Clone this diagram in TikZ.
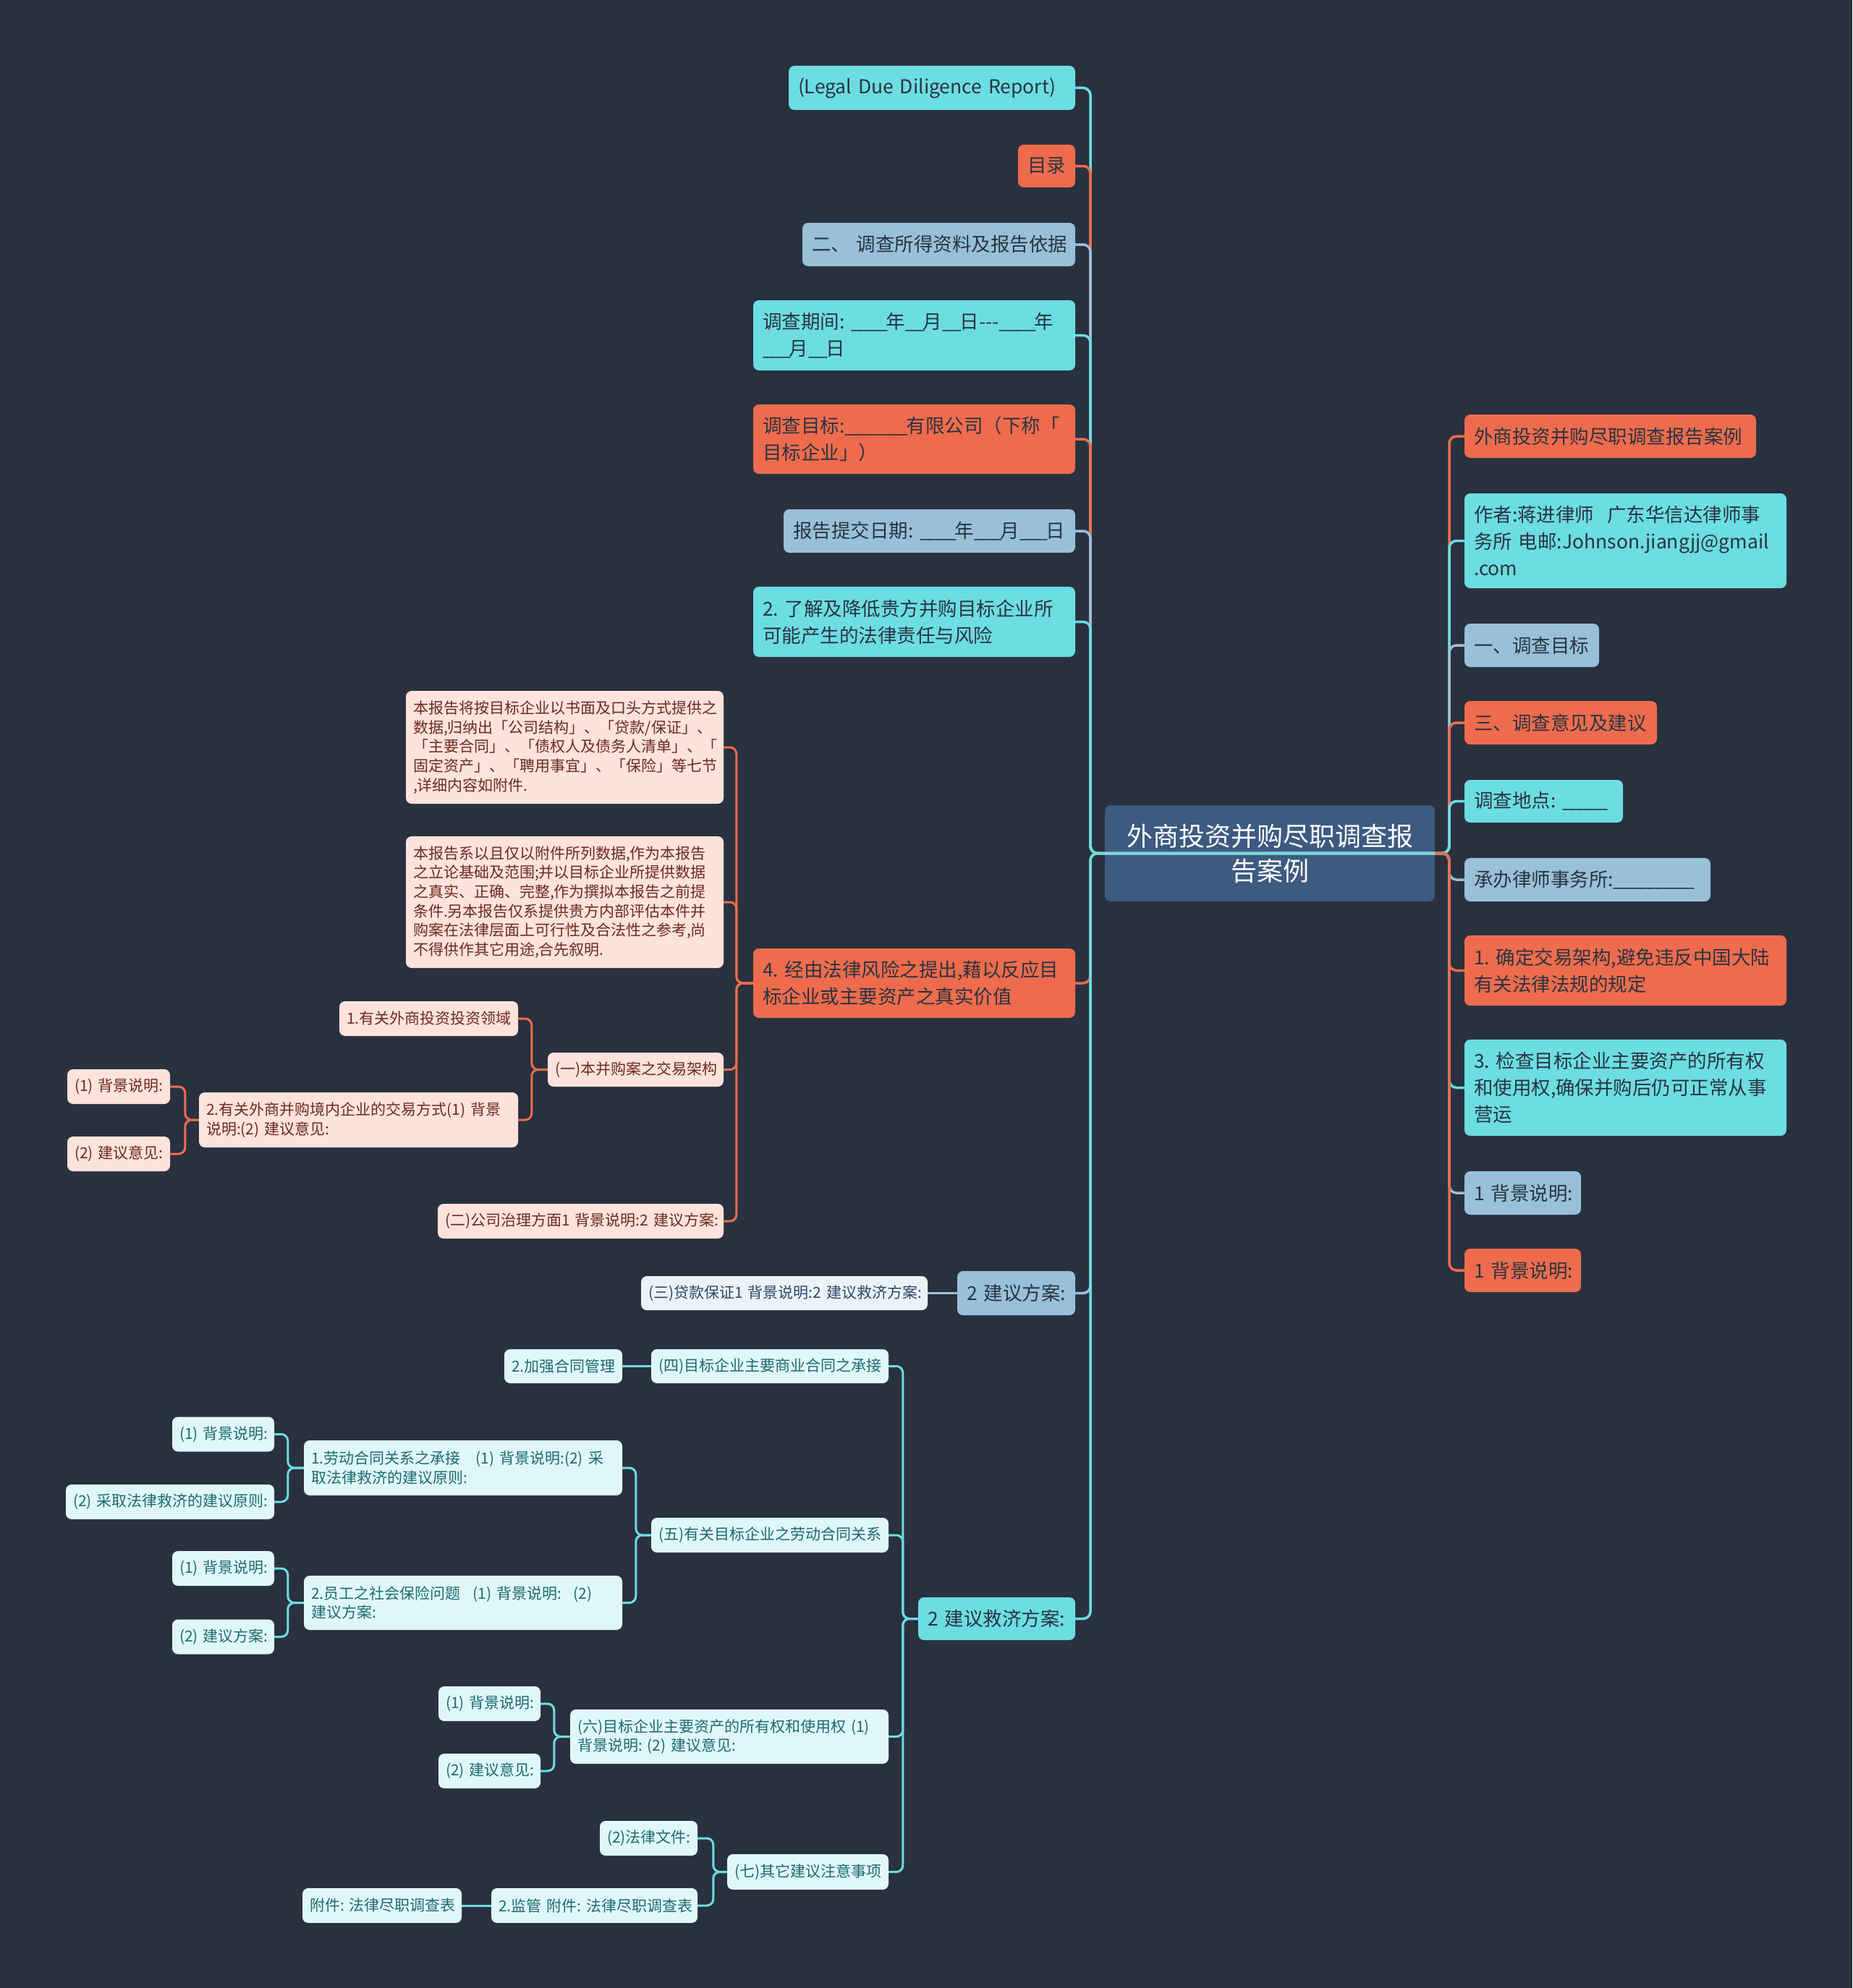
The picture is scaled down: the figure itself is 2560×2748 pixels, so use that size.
\documentclass[tikz,border=0pt]{standalone}
\usepackage{fontspec}
\setmainfont{Noto Sans CJK SC}
\definecolor{bg}{HTML}{29313F}
\definecolor{cy}{HTML}{6CDDE3}
\definecolor{org}{HTML}{EE6C4D}
\definecolor{lb}{HTML}{98C1D9}
\definecolor{rootc}{HTML}{3D5A80}
\definecolor{pk}{HTML}{FDE3DC}
\definecolor{pktext}{HTML}{6B2A1F}
\definecolor{lcy}{HTML}{E0F7F9}
\definecolor{lcytext}{HTML}{1D6A70}
\definecolor{llb}{HTML}{ECF3F8}
\definecolor{llbtext}{HTML}{2A4868}
\definecolor{dtext}{HTML}{2A3340}
\newcommand\U{\_\kern-0.1em}
\tikzset{
  box/.style={rounded corners=8pt, inner ysep=0pt, align=left},
  tw/.style={text width=#1pt},
  mh/.style={minimum height=#1pt},
  one/.style={box, inner xsep=13pt, font=\fontsize{26.5}{37}\selectfont, text=dtext},
  two/.style={box, inner xsep=10pt, font=\fontsize{21}{26.7}\selectfont},
  cyb/.style={one, fill=cy}, orb/.style={one, fill=org}, lbb/.style={one, fill=lb},
  pkb/.style={two, fill=pk, text=pktext, mh=48},
  lcb/.style={two, fill=lcy, text=lcytext, mh=48},
  llbb/.style={two, fill=llb, text=llbtext, mh=48},
  rootb/.style={box, inner xsep=0pt, fill=rootc, text=white, align=center,
    text width=456pt, minimum height=133pt, font=\fontsize{36}{48}\selectfont},
  cl/.style={line width=3.5pt, rounded corners=10pt},
  cltwo/.style={line width=3pt, rounded corners=9pt},
}
\begin{document}
\begin{tikzpicture}[x=1pt,y=-1pt]
\fill[bg] (0,0) rectangle (2560,2748);
\useasboundingbox (0,0) rectangle (2560,2748);
\coordinate (LB) at (1507,1179.5);
\coordinate (RB) at (2003,1179.5);

% root
\node[rootb] (root) at (1755,1179.5) {外商投资并购尽职调查报\\告案例};

% left level 1
\node[cyb, tw=370, mh=61] (L1) at (1288,121.5) {(Legal~Due~Diligence~Report)};
\node[orb, tw=53, mh=59] (L2) at (1446.5,229.5) {目录};
\node[lbb, tw=351, mh=60] (L3) at (1297.5,338) {二、~调查所得资料及报告依据};
\node[cyb, tw=419, mh=97] (L4) at (1263.5,463.5) {\mbox{调查期间:~\U\U\U\U 年\U\U 月\U\U 日-{}-{}-\U\U\U\U 年}\\\mbox{\U\U\U 月\U\U 日}};
\node[orb, tw=419, mh=96] (L5) at (1263.5,607) {\mbox{调查目标:\U\U\U\U\U\U\U 有限公司（下称「}\\目标企业」）};
\node[lbb, tw=377, mh=60] (L6) at (1284.5,734) {\mbox{报告提交日期:~\U\U\U\U 年\U\U\U 月\U\U\U 日}};
\node[cyb, tw=419, mh=97] (L7) at (1263.5,859.5) {2.~了解及降低贵方并购目标企业所\\可能产生的法律责任与风险};
\node[orb, tw=419, mh=96] (L8) at (1263.5,1359) {4.~经由法律风险之提出,藉以反应目\\标企业或主要资产之真实价值};
\node[lbb, tw=137, mh=61] (L9) at (1404.5,1787.5) {2~建议方案:};
\node[cyb, tw=191, mh=59] (L10) at (1377.5,2237.5) {2~建议救济方案:};

% right level 1
\node[orb, tw=377, mh=60] (R1) at (2225.5,603) {外商投资并购尽职调查报告案例};
\node[cyb, tw=419, mh=131] (R2) at (2246.5,747.5) {作者:蒋进律师~~广东华信达律师事\\务所~电邮:Johnson.jiangjj@gmail\\.com};
\node[lbb, tw=160, mh=60] (R3) at (2117,892) {一、调查目标};
\node[orb, tw=240, mh=60] (R4) at (2157,999) {三、调查意见及建议};
\node[cyb, tw=193, mh=59] (R5) at (2133.5,1107.5) {\mbox{调查地点:~\U\U\U\U\U}};
\node[lbb, tw=314, mh=60] (R6) at (2194,1216) {\mbox{承办律师事务所:\U\U\U\U\U\U\U\U\U}};
\node[orb, tw=419, mh=97] (R7) at (2246.5,1341.5) {1.~确定交易架构,避免违反中国大陆\\有关法律法规的规定};
\node[cyb, tw=419, mh=133] (R8) at (2246.5,1503.5) {3.~检查目标企业主要资产的所有权\\和使用权,确保并购后仍可正常从事\\营运};
\node[lbb, tw=135, mh=60] (R9) at (2104.5,1649) {1~背景说明:};
\node[orb, tw=135, mh=60] (R10) at (2104.5,1756) {1~背景说明:};

% L8 subtree
\node[pkb, tw=419, mh=156] (A1) at (780.5,1033) {本报告将按目标企业以书面及口头方式提供之\\数据,归纳出「公司结构」、「贷款/保证」、\\「主要合同」、「债权人及债务人清单」、「\\固定资产」、「聘用事宜」、「保险」等七节\\,详细内容如附件.};
\node[pkb, tw=419, mh=182] (A2) at (780.5,1247) {本报告系以且仅以附件所列数据,作为本报告\\之立论基础及范围;并以目标企业所提供数据\\之真实、正确、完整,作为撰拟本报告之前提\\条件.另本报告仅系提供贵方内部评估本件并\\购案在法律层面上可行性及合法性之参考,尚\\不得供作其它用途,合先叙明.};
\node[pkb, tw=223, mh=47] (A3) at (878.5,1478.5) {(一)本并购案之交易架构};
\node[pkb, tw=227] (A3a) at (592.5,1408) {1.有关外商投资投资领域};
\node[pkb, tw=421, mh=76] (A3b) at (495.5,1548) {2.有关外商并购境内企业的交易方式(1)~背景\\说明:(2)~建议意见:};
\node[pkb, tw=122] (A3b1) at (164,1502) {(1)~背景说明:};
\node[pkb, tw=122] (A3b2) at (164,1595) {(2)~建议意见:};
\node[pkb, tw=375] (A4) at (802.5,1688) {(二)公司治理方面1~背景说明:2~建议方案:};

% L9 subtree
\node[llbb, tw=376, mh=47] (B1) at (1084,1787.5) {(三)贷款保证1~背景说明:2~建议救济方案:};

% L10 subtree
\node[lcb, tw=308, mh=47] (C1) at (1064,1888.5) {(四)目标企业主要商业合同之承接};
\node[lcb, tw=143, mh=47] (C1a) at (778.5,1888.5) {2.加强合同管理};
\node[lcb, tw=308] (C2) at (1064,2122) {(五)有关目标企业之劳动合同关系};
\node[lcb, tw=420, mh=76] (C2a) at (640,2029) {1.劳动合同关系之承接\hspace{1em}(1)~背景说明:(2)~采\\取法律救济的建议原则:};
\node[lcb, tw=121] (C2a1) at (308.5,1982.5) {(1)~背景说明:};
\node[lcb, tw=268] (C2a2) at (235,2076) {(2)~采取法律救济的建议原则:};
\node[lcb, tw=420, mh=75] (C2b) at (640,2215.5) {2.员工之社会保险问题\hspace{0.8em}(1)~背景说明:\hspace{0.8em}(2)\\建议方案:};
\node[lcb, tw=121] (C2b1) at (308.5,2168) {(1)~背景说明:};
\node[lcb, tw=121] (C2b2) at (308.5,2262.5) {(2)~建议方案:};
\node[lcb, tw=420, mh=75] (C3) at (1008,2400.5) {(六)目标企业主要资产的所有权和使用权~(1)\\背景说明:~(2)~建议意见:};
\node[lcb, tw=121] (C3a) at (676.5,2355) {(1)~背景说明:};
\node[lcb, tw=121] (C3b) at (676.5,2448) {(2)~建议意见:};
\node[lcb, tw=203, mh=49] (C4) at (1116.5,2587.5) {(七)其它建议注意事项};
\node[lcb, tw=115] (C4a) at (896.5,2541) {(2)法律文件:};
\node[lcb, tw=265] (C4b) at (821.5,2634) {2.监管~附件:~法律尽职调查表};
\node[lcb, tw=200] (C4b1) at (528,2634) {附件:~法律尽职调查表};

% root connectors, right side
\draw[cl, org] (root.center) -- (RB) |- (R1.west);
\draw[cl, cy]  (root.center) -- (RB) |- (R2.west);
\draw[cl, lb]  (root.center) -- (RB) |- (R3.west);
\draw[cl, org] (root.center) -- (RB) |- (R4.west);
\draw[cl, cy]  (root.center) -- (RB) |- (R5.west);
\draw[cl, lb]  (root.center) -- (RB) |- (R6.west);
\draw[cl, org] (root.center) -- (RB) |- (R7.west);
\draw[cl, cy]  (root.center) -- (RB) |- (R8.west);
\draw[cl, lb]  (root.center) -- (RB) |- (R9.west);
\draw[cl, org] (root.center) -- (RB) |- (R10.west);
% root connectors, left side
\draw[cl, cy]  (root.east) -- (LB) |- (L1.east);
\draw[cl, org] (root.east) -- (LB) |- (L2.east);
\draw[cl, lb]  (root.east) -- (LB) |- (L3.east);
\draw[cl, cy]  (root.east) -- (LB) |- (L4.east);
\draw[cl, org] (root.east) -- (LB) |- (L5.east);
\draw[cl, lb]  (root.east) -- (LB) |- (L6.east);
\draw[cl, cy]  (root.east) -- (LB) |- (L7.east);
\draw[cl, org] (root.east) -- (LB) |- (L8.east);
\draw[cl, lb]  (root.east) -- (LB) |- (L9.east);
\draw[cl, cy]  (root.east) -- (LB) |- (L10.east);

% L8 subtree connectors
\draw[cltwo, org] (L8.west) -- ++(-23,0) |- (A1.east);
\draw[cltwo, org] (L8.west) -- ++(-23,0) |- (A2.east);
\draw[cltwo, org] (L8.west) -- ++(-23,0) |- (A3.east);
\draw[cltwo, org] (L8.west) -- ++(-23,0) |- (A4.east);
\draw[cltwo, org] (A3.west) -- ++(-22,0) |- (A3a.east);
\draw[cltwo, org] (A3.west) -- ++(-22,0) |- (A3b.east);
\draw[cltwo, org] (A3b.west) -- ++(-19,0) |- (A3b1.east);
\draw[cltwo, org] (A3b.west) -- ++(-19,0) |- (A3b2.east);
% L9 subtree
\draw[cltwo, lb] (L9.west) -- (B1.east);
% L10 subtree
\draw[cltwo, cy] (L10.west) -- ++(-21,0) |- (C1.east);
\draw[cltwo, cy] (L10.west) -- ++(-21,0) |- (C2.east);
\draw[cltwo, cy] (L10.west) -- ++(-21,0) |- (C3.east);
\draw[cltwo, cy] (L10.west) -- ++(-21,0) |- (C4.east);
\draw[cltwo, cy] (C1.west) -- (C1a.east);
\draw[cltwo, cy] (C2.west) -- ++(-21,0) |- (C2a.east);
\draw[cltwo, cy] (C2.west) -- ++(-21,0) |- (C2b.east);
\draw[cltwo, cy] (C2a.west) -- ++(-22,0) |- (C2a1.east);
\draw[cltwo, cy] (C2a.west) -- ++(-22,0) |- (C2a2.east);
\draw[cltwo, cy] (C2b.west) -- ++(-22,0) |- (C2b1.east);
\draw[cltwo, cy] (C2b.west) -- ++(-22,0) |- (C2b2.east);
\draw[cltwo, cy] (C3.west) -- ++(-22,0) |- (C3a.east);
\draw[cltwo, cy] (C3.west) -- ++(-22,0) |- (C3b.east);
\draw[cltwo, cy] (C4.west) -- ++(-19,0) |- (C4a.east);
\draw[cltwo, cy] (C4.west) -- ++(-19,0) |- (C4b.east);
\draw[cltwo, cy] (C4b.west) -- (C4b1.east);
\end{tikzpicture}
\end{document}
